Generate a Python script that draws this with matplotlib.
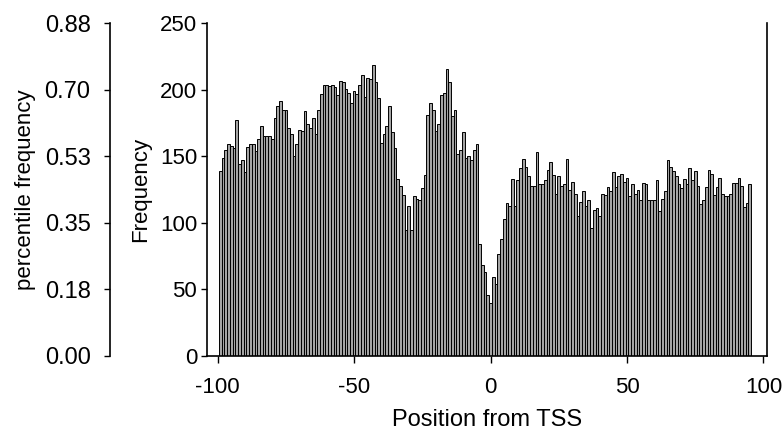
import numpy as np
import matplotlib.pyplot as plt

plt.rcParams['font.family'] = ['Liberation Sans', 'DejaVu Sans']
plt.rcParams['axes.unicode_minus'] = False

# counts per position relative to the TSS, -99 .. 95
position = np.arange(-99, 96)
frequency = [
    139, 149, 155, 159, 158, 156, 177, 144, 147, 138,
    157, 159, 159, 154, 163, 173, 165, 165, 165, 163,
    179, 188, 192, 185, 185, 171, 167, 150, 159, 170,
    169, 184, 174,
    171, 179, 167, 185, 197, 204, 204, 203, 204, 202,
    196, 207, 206, 201, 198, 190, 199, 197, 204, 211,
    195, 209, 208, 219, 206, 194, 160, 167, 173, 188,
    168, 156, 133,
    128, 121, 95, 113, 95, 120, 118, 117, 126, 136,
    181, 190, 185, 169, 174, 196, 198, 216, 206, 180,
    185, 152, 155, 168, 149, 150, 147, 155, 159, 84,
    68, 63, 46,
    40, 59, 54, 77, 88, 103, 115, 113, 133, 113,
    132, 141, 148, 142, 135, 128, 128, 153, 129, 129,
    132, 140, 146, 136, 122, 135, 128, 129, 148, 125,
    131, 122, 105, 116,
    124, 113, 117, 96, 110, 111, 105, 122, 121, 127,
    124, 138, 127, 135, 137, 131, 134, 120, 129, 122,
    125, 117, 130, 129, 117, 117, 117, 132, 109, 118,
    124,
    147, 142, 139, 135, 129, 126, 133, 129, 141, 132,
    139, 128, 114, 117, 127, 140, 137, 121, 127, 134,
    122, 120, 120, 122, 130, 130, 134, 128, 112, 115,
    129,
]

freq_ticks = [0, 50, 100, 150, 200, 250]
pct_labels = ['0.00', '0.18', '0.35', '0.53', '0.70', '0.88']
pct_per_count = 0.0035

fig = plt.figure(figsize=(7.84, 4.32), dpi=100)
ax = fig.add_axes([0.2637, 0.176, 0.7143, 0.770])

ax.bar(position, frequency, width=1.0, color='#a4a4a4',
       edgecolor='black', linewidth=0.7)

ax.set_xlim(-104, 101.2)
ax.set_ylim(0, 250)
ax.set_xticks([-100, -50, 0, 50, 100])
ax.set_yticks(freq_ticks)
ax.spines['top'].set_visible(False)
for s in ['left', 'bottom', 'right']:
    ax.spines[s].set_linewidth(1.2)
ax.tick_params(axis='y', direction='out', length=4, width=1, pad=3, labelsize=16)
ax.tick_params(axis='x', direction='out', length=5, width=1, pad=10, labelsize=16)
ax.set_ylabel('Frequency', fontsize=16, labelpad=6)
ax.set_xlabel('Position from TSS', fontsize=17, labelpad=8)

# percentile scale on a detached left axis
sec = ax.secondary_yaxis(-0.1727, functions=(lambda y: y * pct_per_count,
                                              lambda p: p / pct_per_count))
sec.set_yticks([t * pct_per_count for t in freq_ticks], labels=pct_labels)
sec.spines['left'].set_linewidth(1.2)
sec.tick_params(direction='out', length=4, width=1, pad=10, labelsize=17)
sec.set_ylabel('percentile frequency', fontsize=16, labelpad=6)

fig.savefig('out.png', dpi=100)
